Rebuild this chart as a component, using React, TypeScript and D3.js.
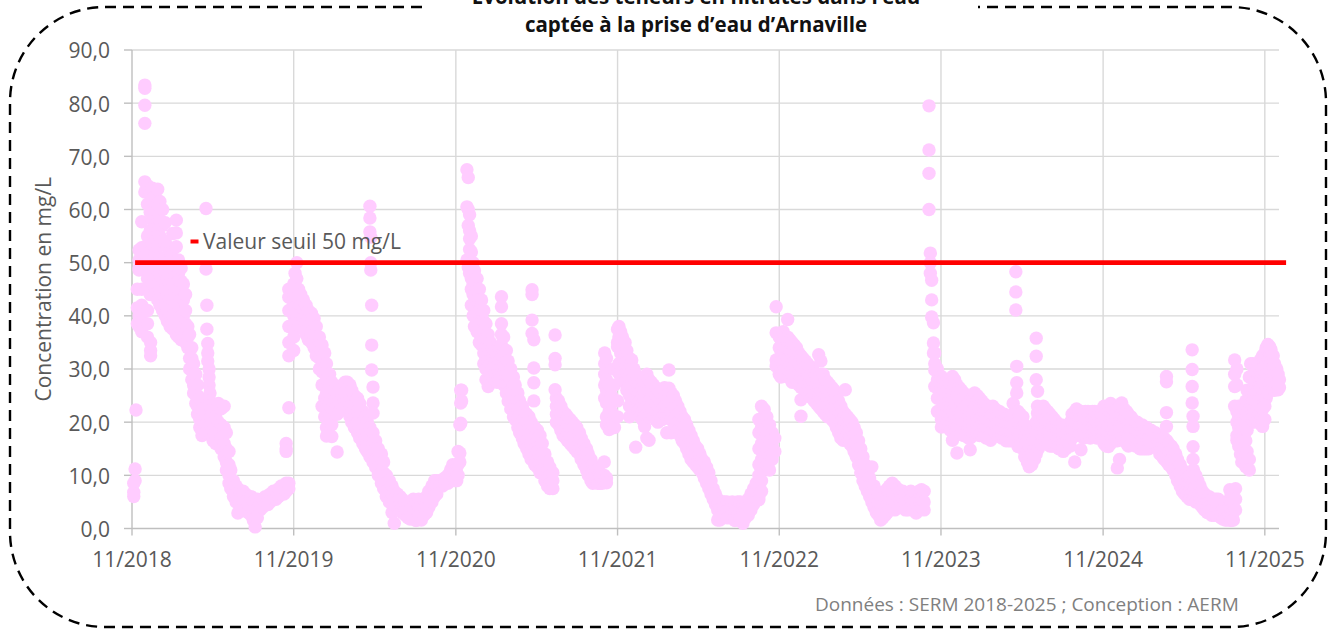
import * as d3 from "d3";

type Reading = [string, number[]];

// axis ticks
const yTicks = [0, 10, 20, 30, 40, 50, 60, 70, 80, 90];
const xTicks = ["2018-11-01", "2019-11-01", "2020-11-01", "2021-11-01", "2022-11-01", "2023-11-01", "2024-11-01", "2025-11-01"];
const xDomain = ["2018-11-01", "2025-12-03"];

// seuil
const seuil = 50;
const seuilDates = ["2018-11-08", "2025-12-19"];

const titleLines = ["Évolution des teneurs en nitrates dans l’eau", "captée à la prise d’eau d’Arnaville"];
const yLabel = "Concentration en mg/L";
const legendLabel = "Valeur seuil 50 mg/L";
const sourceLabel = "Données : SERM 2018-2025 ; Conception : AERM";

// mesures (mg/L), regroupées par date
const season2018: Reading[] = [
  ["2018-11-05", [6.0, 6.8, 8.5]], ["2018-11-08", [11.2, 9.0]], ["2018-11-10", [22.3]],
  ["2018-11-13", [41.5, 38.5, 45]], ["2018-11-17", [49, 52.4, 50.5, 48.6, 40, 38]],
  ["2018-11-23", [52.8, 51.9, 57.7, 45, 42, 39, 37]], ["2018-11-30", [83.4, 82.8, 79.6, 76.2, 65.2, 63.3, 53, 48.5]],
  ["2018-12-06", [64.5, 61, 55, 50, 47, 45, 41, 38.5, 36]], ["2018-12-12", [63.5, 59.5, 56, 52, 48, 44]],
  ["2018-12-13", [35, 33.5, 32.5]], ["2018-12-17", [64, 62, 58, 53.5, 49.5, 46]],
  ["2018-12-23", [62.5, 60, 57, 54, 51, 47, 44]], ["2018-12-29", [63.8, 61, 57.5, 53, 50, 46, 43]],
  ["2019-01-03", [61.5, 58, 55, 51, 48, 45, 42]], ["2019-01-09", [60, 57, 54, 50, 47, 44, 41]],
  ["2019-01-15", [57.5, 54, 51, 48, 45, 42, 40]], ["2019-01-20", [53, 50.5, 47, 44, 41, 39]],
  ["2019-01-26", [52, 49, 46, 43, 40, 38]], ["2019-02-01", [55.5, 52.5, 49, 46, 43, 40, 37.5]],
  ["2019-02-09", [58, 55.6, 53, 48, 45, 42, 39, 36.5]], ["2019-02-14", [50.5, 48, 46.7, 44, 41, 38, 36]],
  ["2019-02-20", [49, 46.5, 43, 40, 37.5, 35.5]], ["2019-02-25", [46, 43, 40, 38, 36]],
  ["2019-03-02", [44, 41, 38.5, 36.5, 35]], ["2019-03-07", [38, 36, 34]], ["2019-03-11", [36.5, 34, 32, 30]],
  ["2019-03-16", [34, 32, 30, 28]], ["2019-03-20", [31, 29, 27, 25.5]], ["2019-03-25", [29, 27, 25, 23.5]],
  ["2019-03-29", [27, 25, 23, 21.5]], ["2019-04-03", [24.5, 22.5, 20.5, 19]], ["2019-04-08", [22.5, 20.5, 18.5, 17.5]],
  ["2019-04-13", [22, 20, 18.5]], ["2019-04-17", [60.2, 48.8, 21.5, 19.5, 18]], ["2019-04-19", [42, 37.5]],
  ["2019-04-21", [34.8, 33, 31.5]], ["2019-04-24", [30, 28.5, 27]], ["2019-04-26", [25.5, 24, 23]],
  ["2019-04-28", [21, 19.5, 17.8]], ["2019-05-03", [22.5, 20.5, 18.5, 16.5]], ["2019-05-09", [21, 19, 17.5, 16]],
  ["2019-05-15", [23.5, 20, 18, 16.5]], ["2019-05-21", [22.5, 19.5, 17, 15]], ["2019-05-28", [23, 19, 16, 13.5]],
  ["2019-06-02", [18, 15, 12.5, 11]], ["2019-06-08", [14.5, 12, 10, 8.5]], ["2019-06-12", [11, 9, 7.5]],
  ["2019-06-18", [9, 7.5, 6]], ["2019-06-24", [8, 6.5, 5]], ["2019-06-28", [7.5, 5.5, 2.9]],
  ["2019-07-03", [7, 5.5, 4.5]], ["2019-07-10", [7, 5.5, 4]], ["2019-07-15", [6.5, 5, 3.5]],
  ["2019-07-21", [5.5, 4.5, 3]], ["2019-07-28", [6, 4, 2.5]], ["2019-08-02", [5, 3.5, 1.5]],
  ["2019-08-06", [4, 2, 0.3]], ["2019-08-11", [5.5, 3.5, 2]], ["2019-08-17", [5, 3.5]], ["2019-08-23", [5.5, 4]],
  ["2019-08-29", [6, 4.5]], ["2019-09-04", [6, 4.5]], ["2019-09-09", [6.5, 5]], ["2019-09-16", [7, 5.5]],
  ["2019-09-22", [7, 5.5]], ["2019-09-28", [7.5, 6]], ["2019-10-04", [8, 6.5]], ["2019-10-10", [8, 6.5]],
  ["2019-10-15", [8.5, 7, 16, 15, 14.5]], ["2019-10-21", [8.5, 7.5, 22.7, 45, 43.5, 41, 38, 35, 32.5]],
];

const season2019: Reading[] = [
  ["2019-11-01", [46, 44, 42, 40, 38, 36, 33.5]], ["2019-11-04", [48, 45.5, 43, 41.5, 39]],
  ["2019-11-08", [50, 47, 44, 42, 40]], ["2019-11-12", [45, 43, 41, 39]], ["2019-11-17", [44, 42, 40, 38]],
  ["2019-11-23", [43, 41, 39.5, 37.5]], ["2019-11-29", [42, 40, 38.5, 36.5]], ["2019-12-04", [41, 39.5, 37.5, 35.5]],
  ["2019-12-11", [40.5, 38.5, 36.5, 35]], ["2019-12-17", [39.5, 37.5, 35.5, 34]], ["2019-12-22", [38, 36, 34, 32.5]],
  ["2019-12-29", [36, 34, 32, 30]], ["2020-01-04", [34.5, 32, 29.5, 27, 23]], ["2020-01-10", [33, 30, 27, 24.5, 21]],
  ["2020-01-14", [31, 28, 25.5, 23.5, 19, 17.4]], ["2020-01-21", [29, 26.5, 23.5, 21]],
  ["2020-01-26", [27.5, 25, 22.5, 19.5, 17.3]], ["2020-02-01", [26, 24, 22]], ["2020-02-07", [25.5, 23.5, 21.5, 14.4]],
  ["2020-02-12", [26, 24, 22]], ["2020-02-19", [27, 25, 23]], ["2020-02-25", [27.5, 25.5, 23.5]],
  ["2020-03-01", [27.5, 26, 24]], ["2020-03-07", [27, 25, 23, 21]], ["2020-03-11", [26, 24, 22, 20]],
  ["2020-03-17", [25, 23, 21, 19]], ["2020-03-24", [24.5, 22, 20, 18]], ["2020-03-29", [23.5, 21, 19, 17]],
  ["2020-04-05", [22, 20, 18, 16]], ["2020-04-11", [21, 19, 17, 15]], ["2020-04-15", [20, 18, 16, 14.5]],
  ["2020-04-21", [60.6, 58.4, 55.8, 19, 17, 15, 13.5]], ["2020-04-23", [54.8, 50, 48.6]], ["2020-04-25", [42, 34.5, 29.8]],
  ["2020-04-28", [26.6, 23.6, 21.7, 18, 16, 14, 12.5]], ["2020-05-04", [16.5, 15, 13, 11.5]],
  ["2020-05-10", [15, 13, 11.5, 10]], ["2020-05-17", [14, 12, 10, 8.5]], ["2020-05-22", [12.5, 10.5, 9, 7.5]],
  ["2020-05-28", [10, 8.5, 7, 6]], ["2020-06-04", [9, 7.5, 6, 5]], ["2020-06-10", [8, 6.5, 5, 3]],
  ["2020-06-15", [7, 5.5, 4.5, 1.0]], ["2020-06-22", [6.5, 5, 4]], ["2020-06-28", [6, 4.5, 3.5]],
  ["2020-07-03", [5.5, 4, 3]], ["2020-07-10", [5, 3.5, 2.5]], ["2020-07-16", [4.5, 3, 2]], ["2020-07-21", [5, 3.5, 1.8]],
  ["2020-07-28", [5.5, 4, 2.5]], ["2020-08-03", [5, 3.5, 1.5]], ["2020-08-09", [5.5, 4, 2.5]], ["2020-08-15", [5, 3.5, 1.6]],
  ["2020-08-21", [5.5, 4, 2.5]], ["2020-08-27", [6, 4.5, 3]], ["2020-09-01", [7, 5.5, 4]], ["2020-09-08", [8, 6.5, 5]],
  ["2020-09-14", [9, 7.5, 6]], ["2020-09-19", [9, 7.5, 6.5]], ["2020-09-26", [9, 8]], ["2020-10-02", [9, 8]],
  ["2020-10-07", [9.5, 8.5]], ["2020-10-14", [10, 8.5]], ["2020-10-20", [11, 9.5]], ["2020-10-25", [12, 10]],
];

const season2020: Reading[] = [
  ["2020-10-30", [10.5, 9]], ["2020-11-03", [12, 10.5, 9]], ["2020-11-06", [14.5, 12, 10]], ["2020-11-10", [19.5, 14.2, 12.5]],
  ["2020-11-12", [23.6, 26, 19.8]], ["2020-11-14", [26, 24]], ["2020-11-26", [67.5, 60.5, 50.5]],
  ["2020-11-29", [66, 60, 57, 49.2]], ["2020-12-02", [59, 56, 54.5, 52.5, 48]], ["2020-12-06", [55, 52, 49.5, 47, 45, 42]],
  ["2020-12-10", [50, 48, 46, 44, 42, 40]], ["2020-12-13", [48.5, 46.5, 44, 42, 40, 38]],
  ["2020-12-19", [47, 45, 43, 41, 39, 37]], ["2020-12-24", [45, 43, 41, 39, 37, 35]], ["2020-12-29", [43, 41, 39, 36.5, 34.5]],
  ["2021-01-03", [41, 39, 37, 35, 33, 31]], ["2021-01-08", [38.5, 36, 34, 32, 30, 28]], ["2021-01-13", [36.5, 34, 32, 30, 28, 26.7]],
  ["2021-01-18", [35, 33, 31, 29, 27.5]], ["2021-01-23", [34, 32, 30, 28.5]], ["2021-01-29", [33.5, 31.5, 29.5, 28]],
  ["2021-02-02", [32.5, 30.5, 29, 27.5]], ["2021-02-07", [34, 31.5, 29.5, 28]],
  ["2021-02-12", [43.6, 41.7, 38.5, 36.5, 34.5, 32.5, 30.5]], ["2021-02-17", [36, 33.5, 31, 29, 27]],
  ["2021-02-23", [33.5, 31, 29, 27, 25.5]], ["2021-02-27", [31.5, 29, 27, 25.5, 24]], ["2021-03-05", [30, 28, 26, 24, 22.5]],
  ["2021-03-11", [28.5, 26.5, 24.5, 22.5, 21]], ["2021-03-15", [27, 25, 23, 21.5, 20.5]], ["2021-03-21", [25.5, 24, 22, 20.5, 19]],
  ["2021-03-25", [24, 22.5, 21, 19.5, 18]], ["2021-03-31", [23, 21.5, 20, 18.5, 17]], ["2021-04-04", [22, 20.5, 19, 17.5, 16]],
  ["2021-04-10", [21.5, 20, 18.5, 16.5, 15]], ["2021-04-15", [21, 19, 17, 15.5, 14]], ["2021-04-20", [20, 18, 16, 14.5, 13]],
  ["2021-04-22", [44.9, 44, 39.2, 36.7]], ["2021-04-26", [35.5, 30.2, 27.4, 24]], ["2021-04-28", [19, 17, 15, 13.5, 12]],
  ["2021-05-04", [18.5, 16.5, 14.5, 13, 11.5]], ["2021-05-10", [17.5, 15.5, 13.5, 12, 10.5]], ["2021-05-15", [16, 14, 12, 10.5]],
  ["2021-05-21", [14, 12.5, 10.5, 9]], ["2021-05-27", [12.5, 11, 9.5, 8]], ["2021-06-01", [11.5, 10, 8.5, 7.5]],
  ["2021-06-08", [10.5, 9, 7.5]], ["2021-06-13", [36.4, 32, 30.8, 26.1]], ["2021-06-16", [24.5, 23, 21.5, 20]],
  ["2021-06-21", [24, 22.5, 21, 19.5]], ["2021-06-26", [23, 21.5, 20, 18.5]], ["2021-07-01", [22, 20.5, 19, 17.5]],
  ["2021-07-07", [21.5, 20, 18.5, 17]], ["2021-07-11", [21, 19.5, 18, 16.5]], ["2021-07-17", [20.5, 19, 17.5, 16]],
  ["2021-07-22", [20, 18.5, 17, 15.5]], ["2021-07-27", [19.5, 18, 16.5, 15]], ["2021-08-01", [19, 17.5, 16, 14.5]],
  ["2021-08-07", [18, 16.5, 15, 14]], ["2021-08-11", [17, 15.5, 14, 13]], ["2021-08-17", [16, 14.5, 13, 12]],
  ["2021-08-23", [15, 13.5, 12, 11]], ["2021-08-27", [14, 12.5, 11, 10]], ["2021-09-02", [13, 11.5, 10, 9]],
  ["2021-09-06", [12, 10.5, 9.5, 8.5]], ["2021-09-12", [11.5, 10, 9]], ["2021-09-17", [11, 9.5, 8.5]],
  ["2021-09-22", [10.5, 9.5, 8.5]], ["2021-09-27", [10, 9, 8.5]], ["2021-10-02", [12.5, 10, 9]], ["2021-10-07", [9.5, 8.6]],
];

const season2021: Reading[] = [
  ["2021-10-03", [33, 31, 29, 27, 24.5]], ["2021-10-07", [32, 28, 26, 23.6, 21, 19.5]], ["2021-10-13", [27, 24, 22, 20, 18.6]],
  ["2021-10-18", [25, 22, 20, 19]], ["2021-10-25", [30, 27, 24, 21, 19]], ["2021-11-01", [37.5, 35, 34.2, 30, 24, 21]],
  ["2021-11-04", [38, 36, 34, 31, 29.2]], ["2021-11-08", [37, 35, 33, 31, 29]], ["2021-11-12", [36, 34, 32, 30, 28.5]],
  ["2021-11-18", [35, 33, 31, 29, 27.5]], ["2021-11-22", [33.5, 31.5, 29.5, 28, 26]], ["2021-11-28", [32, 30, 28.5, 27, 25, 23, 21]],
  ["2021-12-03", [31.7, 30, 28, 26.5, 25]], ["2021-12-08", [30, 28.5, 27, 25.5, 24, 22]], ["2021-12-12", [29, 27.5, 26, 24.5, 23, 15.3]],
  ["2021-12-17", [28, 26.5, 25, 23.5, 22]], ["2021-12-22", [27, 25.5, 24, 22.5, 21]], ["2021-12-27", [26.5, 25, 23.5, 22, 20.5]],
  ["2022-01-01", [27, 25.5, 24, 22.5, 21, 19.2]], ["2022-01-06", [29, 27, 25, 23, 21.5, 17]], ["2022-01-11", [28, 26, 24, 22.5, 21, 16.6]],
  ["2022-01-16", [27.5, 26, 24.5, 23, 21.5]], ["2022-01-21", [27, 25.5, 24, 22.5, 21]], ["2022-01-26", [26.5, 25, 23.5, 22, 20.5]],
  ["2022-01-31", [26, 24.5, 23, 21.5, 20]], ["2022-02-05", [25.5, 24, 22.5, 21]], ["2022-02-10", [25, 23.5, 22, 20.5]],
  ["2022-02-15", [26.5, 25, 23, 21.5]], ["2022-02-20", [26, 24, 22.5, 21, 18]], ["2022-02-25", [29.8, 26.4, 24.5, 22.5, 21]],
  ["2022-03-02", [25.5, 24, 22, 20.5, 18]], ["2022-03-07", [25, 23, 21.5, 20]], ["2022-03-12", [24, 22.5, 21, 19.5]],
  ["2022-03-17", [23, 21.5, 20, 18.5]], ["2022-03-22", [22, 20.5, 19, 17.5]], ["2022-03-27", [21, 19.5, 18, 16.5]],
  ["2022-04-01", [20.5, 19, 17.5, 16]], ["2022-04-06", [19.5, 18, 16.5, 15]], ["2022-04-11", [18.5, 17, 15.5, 14]],
  ["2022-04-16", [17.5, 16, 14.5, 13]], ["2022-04-21", [16.5, 15, 13.5, 12.5]], ["2022-04-26", [15.5, 14, 13, 12]],
  ["2022-05-01", [15, 13.5, 12.5, 11.5]], ["2022-05-06", [14, 13, 12, 11]], ["2022-05-11", [13, 12, 10.5]],
  ["2022-05-16", [12.5, 11, 9.5]], ["2022-05-21", [11.5, 10, 8.5]], ["2022-05-26", [10.5, 9, 7.5]], ["2022-05-31", [9, 7.5, 6.5]],
  ["2022-06-05", [7.5, 6.5, 5.5]], ["2022-06-10", [6.5, 5.5, 4.5]], ["2022-06-15", [5.5, 4.5, 3.5, 1.6]],
  ["2022-06-20", [5, 4, 3, 1.6]], ["2022-06-25", [5, 4, 3]], ["2022-06-30", [5, 3.5, 2.5]], ["2022-07-06", [5, 3.5, 2]],
  ["2022-07-12", [4.5, 3.5, 2]], ["2022-07-18", [5, 3.5, 2.5]], ["2022-07-24", [4.5, 3, 1.5]], ["2022-07-30", [5, 3.5, 2.5]],
  ["2022-08-05", [5, 3.5, 2]], ["2022-08-11", [4.5, 3, 1]], ["2022-08-17", [5, 3.5, 2]], ["2022-08-23", [5.5, 4, 2.5]],
  ["2022-08-29", [6.5, 5, 3.5]], ["2022-09-04", [7.5, 6, 4.5]], ["2022-09-10", [8.5, 7, 5.5]],
  ["2022-09-16", [20.5, 18, 15, 12, 10, 8, 6, 5.4]], ["2022-09-22", [23, 19, 16, 13, 11, 9, 7]],
  ["2022-09-28", [22.4, 18.5, 15.5, 12.5]], ["2022-10-04", [21, 17.5, 14.5, 12]], ["2022-10-10", [19.5, 16.5, 13.5, 11]],
  ["2022-10-16", [18, 15.5, 13]], ["2022-10-22", [17, 14.5]],
];

const season2022: Reading[] = [
  ["2022-10-25", [41.7, 36.8, 31.7, 30.5]], ["2022-11-01", [36, 34, 32, 30.5, 29]], ["2022-11-05", [35.5, 33.5, 31.5, 29.5, 28.5]],
  ["2022-11-10", [37, 35, 33, 31, 29]], ["2022-11-14", [36, 34, 32, 30]], ["2022-11-20", [39.3, 36, 34, 32, 30, 28.5]],
  ["2022-11-25", [35.5, 33.5, 31.5, 29.5, 28.5]], ["2022-11-30", [35, 33, 31, 29, 27.5]], ["2022-12-05", [34.5, 32.5, 30.5, 28.5]],
  ["2022-12-10", [34, 32, 30, 28]], ["2022-12-15", [33, 31, 29, 27]], ["2022-12-20", [32.5, 30.5, 28.5, 26.5, 24.2, 21.1]],
  ["2022-12-25", [32, 30, 28, 26.5]], ["2022-12-30", [31.5, 29.5, 27.5, 26]], ["2023-01-04", [31, 29, 27, 25.5]],
  ["2023-01-09", [30.5, 28.5, 26.5, 25]], ["2023-01-14", [30, 28, 26, 24.5]], ["2023-01-19", [29.5, 27.5, 26, 24]],
  ["2023-01-24", [29, 27, 25.5, 23.5]], ["2023-01-29", [32.7, 28.5, 26.5, 25, 23]], ["2023-02-03", [31.5, 28, 26, 24.5, 22.5]],
  ["2023-02-08", [29, 27, 25.5, 24, 22]], ["2023-02-13", [28, 26.5, 25, 23.5, 21.5]], ["2023-02-18", [27.5, 26, 24.5, 23, 21]],
  ["2023-02-23", [27, 25.5, 24, 22.5, 21]], ["2023-02-28", [26.5, 25, 23.5, 22, 20.5]], ["2023-03-05", [26, 24.5, 23, 21.5, 20]],
  ["2023-03-10", [25, 23.5, 22, 20.5, 19]], ["2023-03-15", [24, 22.5, 21, 19.5, 18]], ["2023-03-20", [23, 21.5, 20, 18.5, 17]],
  ["2023-03-25", [22, 20.5, 19, 17.5, 16.6]], ["2023-03-30", [26.1, 21.5, 20, 18.5, 17]], ["2023-04-04", [21, 19.5, 18, 16.5]],
  ["2023-04-09", [20.5, 19, 17.5, 16]], ["2023-04-14", [20, 18.5, 17, 15.5]], ["2023-04-19", [19, 17.5, 16, 14.5]],
  ["2023-04-24", [18, 16.5, 15, 13.5]], ["2023-04-29", [16.5, 15, 13.5, 12]], ["2023-05-04", [15, 13.5, 12, 10.5]],
  ["2023-05-09", [13.5, 12, 10.5, 9]], ["2023-05-14", [12, 10.5, 9, 8]], ["2023-05-19", [10.5, 9, 8, 7]],
  ["2023-05-24", [9.5, 8, 7, 6]], ["2023-05-29", [11.6, 8, 6.5, 5]], ["2023-06-03", [8, 6.5, 5, 4]], ["2023-06-08", [7, 5.5, 4, 3]],
  ["2023-06-13", [6.5, 5, 3.5, 2.5]], ["2023-06-18", [6, 4.5, 3, 1.6]], ["2023-06-23", [6.5, 5, 3.5, 2]],
  ["2023-06-28", [7, 5.5, 4, 2.5]], ["2023-07-03", [7.5, 6, 4.5, 3]], ["2023-07-08", [8, 6.5, 5, 3.5]],
  ["2023-07-14", [8.5, 7, 5.5, 4]], ["2023-07-20", [8, 6.5, 5, 3.5]], ["2023-07-26", [7.5, 6, 4.5]], ["2023-08-01", [7, 5.5, 4]],
  ["2023-08-07", [7, 5.5, 4]], ["2023-08-13", [6.5, 5, 3.5]], ["2023-08-19", [6.5, 5, 3.5]], ["2023-08-25", [7, 5.5, 4]],
  ["2023-08-31", [6.5, 5, 3.5]], ["2023-09-06", [6.5, 5, 2.9]], ["2023-09-12", [7, 5.5, 4]], ["2023-09-18", [7.3, 5.5, 4]],
  ["2023-09-24", [7, 5, 3.5]],
];

const season2023: Reading[] = [
  ["2023-10-05", [79.5, 71.2, 66.8, 60]], ["2023-10-08", [51.8, 50, 48]], ["2023-10-11", [46.7, 43, 39.8]],
  ["2023-10-15", [38.7, 34.9, 33]], ["2023-10-18", [33, 31, 29.8, 26.7]], ["2023-10-24", [30, 28, 26.5, 24.5, 22]],
  ["2023-11-02", [28.6, 26.5, 24.5, 22.5, 20.5, 19.1]], ["2023-11-06", [28, 26, 24, 22, 20]], ["2023-11-12", [27.5, 25.5, 23.5, 21.5, 19.5]],
  ["2023-11-17", [27, 25, 23, 21, 19]], ["2023-11-22", [26.5, 24.5, 22.5, 20.5, 18.5]], ["2023-11-27", [28.6, 26, 24, 22, 20, 16.6]],
  ["2023-12-02", [28, 25.5, 23.5, 21.5, 19.5]], ["2023-12-07", [27, 25, 23, 21, 19, 14.2]], ["2023-12-12", [26.5, 24.5, 22.5, 20.5, 18.5]],
  ["2023-12-17", [26, 24, 22, 20, 18]], ["2023-12-22", [25.5, 23.5, 21.5, 19.5, 17.5]], ["2023-12-27", [25, 23, 21, 19.5, 17.5]],
  ["2024-01-02", [24.5, 22.5, 21, 19, 17]], ["2024-01-06", [24, 22, 20.5, 19, 17, 14.8]], ["2024-01-12", [24.5, 22.5, 20.5, 19, 17.5]],
  ["2024-01-16", [25.5, 23, 21, 19.5, 18]], ["2024-01-22", [25, 23, 21, 19.5, 18]], ["2024-01-27", [24.5, 22.5, 20.5, 19, 17.5]],
  ["2024-02-01", [24, 22, 20.5, 19, 17.5]], ["2024-02-06", [23.5, 22, 20.5, 19, 17.5]], ["2024-02-11", [23, 21.5, 20, 18.5, 17]],
  ["2024-02-16", [23, 21.5, 20, 18.5, 17]], ["2024-02-21", [22.5, 21, 19.5, 18, 16.6]], ["2024-02-26", [23, 21.5, 20, 18.5, 17.3]],
  ["2024-03-02", [22.5, 21, 19.5, 18]], ["2024-03-07", [22, 20.5, 19, 17.5]], ["2024-03-12", [22, 20.5, 19, 17.5]],
  ["2024-03-17", [21.5, 20, 18.5, 17]], ["2024-03-23", [21.5, 20, 18.5, 17]], ["2024-03-27", [21, 19.5, 18, 16.5]],
  ["2024-04-02", [21, 19.5, 18, 16.5]], ["2024-04-07", [21, 19.5, 18, 16.5]], ["2024-04-12", [23.5, 21.5, 19.5, 18, 16.5]],
  ["2024-04-18", [48.3, 44.5, 41.1]], ["2024-04-20", [30.5, 27.4, 25.5]], ["2024-04-23", [22, 20, 18, 16, 15.4]],
  ["2024-04-28", [21.5, 19.5, 17.5, 15.5]], ["2024-05-04", [21, 19, 17, 15]], ["2024-05-08", [19.5, 17.5, 15.5, 13.5]],
  ["2024-05-14", [18.5, 16.5, 14.5, 12.5]], ["2024-05-18", [17.5, 15.5, 13.5, 11.6]], ["2024-05-24", [18, 16, 14, 12]],
  ["2024-05-30", [19, 17, 15, 13]], ["2024-06-03", [35.8, 32.4, 28, 20, 18, 16, 14]], ["2024-06-06", [25.8, 23, 21.7]],
  ["2024-06-08", [21, 19, 17, 15]], ["2024-06-13", [22, 20, 18, 16]], ["2024-06-19", [23, 21, 19, 17]],
  ["2024-06-23", [22.5, 20.5, 18.5, 16.5]], ["2024-06-29", [22, 20, 18, 16]], ["2024-07-04", [21.5, 19.5, 17.5, 15.5]],
  ["2024-07-09", [21, 19, 17, 15.5]], ["2024-07-14", [20.5, 18.5, 17, 15.5]], ["2024-07-19", [20, 18.5, 17, 15.5]],
  ["2024-07-24", [19.5, 18, 16.5, 15]], ["2024-07-30", [19.5, 18, 16.5, 15]], ["2024-08-03", [19, 17.5, 16, 14.5]],
  ["2024-08-09", [19, 17.5, 16, 15]], ["2024-08-13", [19.5, 18, 16.5]], ["2024-08-19", [20, 18.5, 17, 15.5]],
  ["2024-08-23", [21.5, 20, 18.5, 17]], ["2024-08-29", [22, 20.5, 19, 17.5, 12.5]], ["2024-09-02", [22.5, 21, 19.5, 18]],
  ["2024-09-08", [22, 20.5, 19, 17.5]], ["2024-09-12", [22, 20.5, 19, 17.5, 14.8]], ["2024-09-18", [21.5, 20, 18.5, 17]],
  ["2024-09-22", [22, 20.5, 19, 17.5]], ["2024-09-28", [22, 20.5, 19, 17.5]], ["2024-10-03", [21.5, 20, 18.5, 17]],
  ["2024-10-08", [22, 20.5, 19, 17.5]], ["2024-10-13", [22, 20.5, 19, 17.5]], ["2024-10-18", [21.5, 20, 18.5, 17]],
  ["2024-10-23", [22, 20.5, 19, 17.5]], ["2024-10-29", [21.5, 20, 18.5, 17]],
];

const season2024: Reading[] = [
  ["2024-11-03", [23, 21, 19, 17.5, 16]], ["2024-11-08", [22.5, 20.5, 18.5, 17, 15.5]], ["2024-11-13", [23, 21, 19, 17.5, 15.4]],
  ["2024-11-18", [23.5, 21.5, 19.5, 17.5, 16]], ["2024-11-23", [22.5, 20.5, 18.5, 17]], ["2024-11-28", [22, 20, 18, 16.5]],
  ["2024-12-03", [22.5, 20.5, 18.5, 16.5, 11.4]], ["2024-12-08", [23, 21, 19, 17, 13]], ["2024-12-13", [23.6, 21.5, 19.5, 17.5]],
  ["2024-12-18", [22.5, 20.5, 18.5, 16.5]], ["2024-12-24", [22, 20, 18, 16]], ["2024-12-28", [21.5, 19.5, 17.5, 15.5]],
  ["2025-01-03", [21, 19, 17.5, 16]], ["2025-01-07", [20.5, 19, 17.5, 16]], ["2025-01-13", [20, 18.5, 17, 15.5]],
  ["2025-01-17", [20, 18.5, 17, 15.5]], ["2025-01-23", [19.5, 18, 16.5, 15]], ["2025-01-28", [19.5, 18, 16.5, 15]],
  ["2025-02-02", [19, 17.5, 16, 15]], ["2025-02-07", [19, 17.5, 16, 15]], ["2025-02-12", [18.5, 17, 16, 15]],
  ["2025-02-17", [18.5, 17, 16]], ["2025-02-22", [18, 17, 15.5]], ["2025-02-27", [18, 16.5, 15.5]], ["2025-03-05", [17.5, 16.5, 15]],
  ["2025-03-09", [17.5, 16, 15, 14]], ["2025-03-15", [17, 15.5, 14.5, 13.5]], ["2025-03-19", [17, 15.5, 14, 13]],
  ["2025-03-24", [28.6, 27.6, 21.8, 19.2]], ["2025-03-25", [16.5, 15, 14, 12.5]], ["2025-03-29", [16, 14.5, 13.5, 12]],
  ["2025-04-04", [15.5, 14, 13, 11.5]], ["2025-04-08", [15, 13.5, 12.5, 11]], ["2025-04-14", [14, 12.5, 11, 10]],
  ["2025-04-18", [13, 11.5, 10, 9]], ["2025-04-24", [12, 10.5, 9, 8]], ["2025-04-29", [11, 9.5, 8, 7]],
  ["2025-05-04", [10.5, 9, 7.5, 6.5]], ["2025-05-09", [10.5, 8.5, 7, 6]], ["2025-05-15", [10, 8.5, 7, 5.5]],
  ["2025-05-19", [10, 8, 6.5, 5.5]], ["2025-05-21", [33.6, 29.9, 26.7, 23.6]], ["2025-05-23", [21.1, 19.2, 15.4, 13]],
  ["2025-05-24", [11, 9, 7, 5.5]], ["2025-05-29", [10, 8, 6.5, 5]], ["2025-06-03", [9, 7.5, 6, 5]], ["2025-06-08", [8, 6.5, 5.5, 4.5]],
  ["2025-06-13", [7, 6, 5, 4]], ["2025-06-18", [6.5, 5.5, 4.5, 3.5]], ["2025-06-24", [6, 5, 4, 3]], ["2025-06-28", [6, 5, 4, 3]],
  ["2025-07-04", [5.5, 4.5, 3.5, 2.5]], ["2025-07-09", [5.5, 4.5, 3.5, 2.5]], ["2025-07-14", [5.5, 4.5, 3.5, 2.5]],
  ["2025-07-19", [5.5, 4.5, 3.5, 2.5]], ["2025-07-25", [5, 4, 3, 2]], ["2025-07-29", [4.5, 3.5, 2.5, 1.8]],
  ["2025-08-04", [4.5, 3.5, 2.5, 1.6]], ["2025-08-08", [5, 3.5, 2.2, 1.6]], ["2025-08-14", [7.3, 5.5, 4, 2.5]],
  ["2025-08-17", [6.5, 5, 3.5, 1.5]], ["2025-08-22", [7, 5, 3, 1.6]], ["2025-08-25", [31.7, 29, 26.7, 23]],
  ["2025-08-27", [7.5, 5.5, 3.5]], ["2025-08-30", [30, 27, 22, 20, 17.5, 16.6]], ["2025-09-03", [23, 21, 19, 17, 15.5]],
  ["2025-09-07", [21.5, 19.5, 17.5, 15.5, 14]], ["2025-09-10", [20, 18, 16, 14, 12.5]], ["2025-09-15", [22, 20, 17.5, 15, 13]],
  ["2025-09-19", [24, 21.5, 19, 16.5, 14.2, 11.6]], ["2025-09-22", [26, 23.5, 21, 18.5, 14.5, 12.5]],
  ["2025-09-27", [28.5, 26, 23.5, 21, 13, 11]], ["2025-09-30", [31, 28.5, 26, 23.5, 21]], ["2025-10-05", [31, 28.5, 26, 23.5, 21]],
  ["2025-10-08", [30, 27.5, 25, 22.5, 20]], ["2025-10-13", [30.5, 28, 25.5, 23, 20.5]], ["2025-10-16", [31, 28.5, 26, 23.5, 21]],
  ["2025-10-21", [31.5, 29, 26.5, 24, 21.5]], ["2025-10-24", [32, 29.5, 27, 24.5, 22, 19.5]],
  ["2025-10-27", [32.5, 30, 27.5, 25, 22.5, 19.2]], ["2025-11-01", [33, 30.5, 28, 25.5, 23, 20.5]],
  ["2025-11-04", [34, 31.5, 29, 27, 24.5]], ["2025-11-08", [34.6, 32, 30, 28, 25.5]], ["2025-11-12", [34.2, 32.5, 30.5, 28.5, 26.5]],
  ["2025-11-15", [33.6, 31.5, 29.5, 27.5]], ["2025-11-20", [32.5, 30.5, 28.5, 26.5]], ["2025-11-23", [31, 29, 27, 26]],
  ["2025-11-28", [30, 28, 26.5]], ["2025-12-01", [29, 27, 26.1]], ["2025-12-04", [28, 26.5]],
];

const seasons = [season2018, season2019, season2020, season2021, season2022, season2023, season2024];

const parse = d3.utcParse("%Y-%m-%d");
const frFormat = d3.formatLocale({ decimal: ",", thousands: " ", grouping: [3], currency: ["", " €"] }).format(".1f");
const monthYear = d3.utcFormat("%m/%Y");

const FONT = "'Open Sans', 'DejaVu Sans', sans-serif";

export default function App() {
  const width = 1336;
  const height = 630;
  const plot = { left: 132, right: 1279, top: 50, bottom: 528.5 };

  const x = d3.scaleUtc().domain(xDomain.map((d) => parse(d) as Date)).range([plot.left, plot.right]);
  const y = d3.scaleLinear().domain([0, 90]).range([plot.bottom, plot.top]);

  const points = seasons.flatMap((s) =>
    s.flatMap(([d, vals]) => vals.map((v) => ({ date: parse(d) as Date, v })))
  );
  const tickDates = xTicks.map((d) => parse(d) as Date);

  return (
    <div style={{ position: "absolute", left: 0, top: 0 }}>
      <svg width={width} height={height} style={{ display: "block", background: "#fff" }}>
        {/* cadre pointillé */}
        <rect x={10} y={7} width={1316} height={620} rx={95} ry={95}
          fill="none" stroke="#000" strokeWidth={2.4} strokeDasharray="11 7" />
        <rect x={423} y={0} width={555} height={14} fill="#fff" />

        {/* titre (première ligne coupée en haut, comme l'original) */}
        <g fontFamily={FONT} fontWeight={700} fontSize={20.5} fill="#111" textAnchor="middle">
          <text x={696} y={4}>{titleLines[0]}</text>
          <text x={696} y={31.5}>{titleLines[1]}</text>
        </g>

        {/* grille */}
        <g stroke="#D9D9D9" strokeWidth={1.4}>
          {yTicks.filter((t) => t > 0).map((t) => (
            <line key={"h" + t} x1={plot.left} x2={plot.right} y1={y(t)} y2={y(t)} />
          ))}
          {tickDates.slice(1).map((d, i) => (
            <line key={"v" + i} x1={x(d)} x2={x(d)} y1={plot.top} y2={plot.bottom} />
          ))}
        </g>

        {/* axes */}
        <g stroke="#BFBFBF" strokeWidth={1.4}>
          <line x1={plot.left} x2={plot.left} y1={plot.top} y2={plot.bottom} />
          <line x1={plot.left} x2={plot.right} y1={plot.bottom} y2={plot.bottom} />
          {yTicks.map((t) => (
            <line key={"yt" + t} x1={plot.left - 8} x2={plot.left} y1={y(t)} y2={y(t)} />
          ))}
          {tickDates.map((d, i) => (
            <line key={"xt" + i} x1={x(d)} x2={x(d)} y1={plot.bottom} y2={plot.bottom + 7} />
          ))}
        </g>

        <g fontFamily={FONT} fontSize={21} fill="#595959">
          {yTicks.map((t) => (
            <text key={"yl" + t} x={110} y={y(t)} dy="0.4em" textAnchor="end">{frFormat(t)}</text>
          ))}
          {tickDates.map((d, i) => (
            <text key={"xl" + i} x={x(d)} y={567} textAnchor="middle">{monthYear(d)}</text>
          ))}
          <text transform={`translate(51,${(plot.top + plot.bottom) / 2}) rotate(-90)`} textAnchor="middle">{yLabel}</text>
        </g>

        {/* mesures */}
        <g fill="#FFCCFF">
          {points.map((p, i) => (
            <circle key={i} cx={x(p.date)} cy={y(p.v)} r={6.7} />
          ))}
        </g>

        {/* seuil */}
        <line x1={x(parse(seuilDates[0]) as Date)} x2={x(parse(seuilDates[1]) as Date)}
          y1={y(seuil)} y2={y(seuil)} stroke="#FF0000" strokeWidth={4.6} />

        {/* légende */}
        <line x1={190.5} x2={198.5} y1={241.5} y2={241.5} stroke="#FF0000" strokeWidth={4} />
        <text x={203} y={249} fontFamily={FONT} fontSize={21} fill="#595959">{legendLabel}</text>

        {/* source */}
        <text x={815} y={611} fontFamily={FONT} fontSize={19} fill="#7F7F7F">{sourceLabel}</text>
      </svg>
    </div>
  );
}
